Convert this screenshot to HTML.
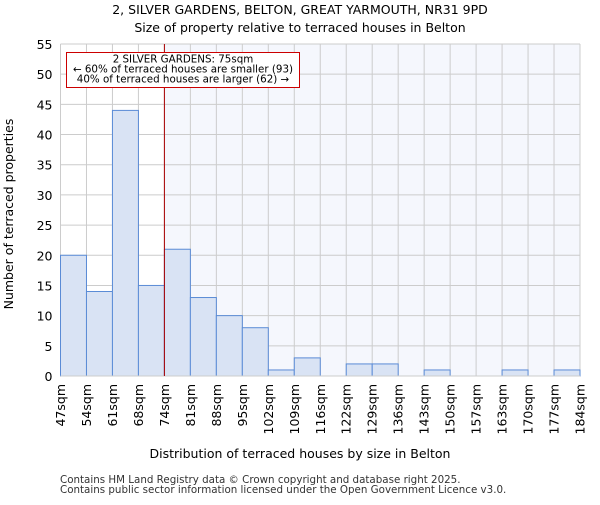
<!DOCTYPE html>
<html><head><meta charset="utf-8"><style>
body{margin:0;background:#fff}
svg{font-family:"DejaVu Sans","Liberation Sans",sans-serif}
</style></head><body>
<svg width="600" height="500" id="c">
<text x="300" y="14" text-anchor="middle" font-size="12.5">2, SILVER GARDENS, BELTON, GREAT YARMOUTH, NR31 9PD</text>
<text x="300" y="32" text-anchor="middle" font-size="12.5">Size of property relative to terraced houses in Belton</text>
<g id="plot"></g>
<text x="300" y="458" text-anchor="middle" font-size="12.5">Distribution of terraced houses by size in Belton</text>
<text transform="translate(13,214) rotate(-90)" text-anchor="middle" font-size="12.5">Number of terraced properties</text>
<text x="60" y="483" font-size="10.3" fill="#333">Contains HM Land Registry data © Crown copyright and database right 2025.</text>
<text x="60" y="493" font-size="10.3" fill="#333">Contains public sector information licensed under the Open Government Licence v3.0.</text>
</svg>
<script>
const categories=["47sqm","54sqm","61sqm","68sqm","74sqm","81sqm","88sqm","95sqm","102sqm","109sqm","116sqm","122sqm","129sqm","136sqm","143sqm","150sqm","157sqm","163sqm","170sqm","177sqm","184sqm"];
const counts=[20,14,44,15,21,13,10,8,1,3,0,2,2,0,1,0,0,1,0,1];
const yTicks=[0,5,10,15,20,25,30,35,40,45,50,55];
const markerBin=4;
const X0=60.5,X1=580,Y0=376,Y1=44,YMAX=55;
const bw=(X1-X0)/counts.length;
const xs=i=>X0+i*bw, ys=v=>Y0-(v/YMAX)*(Y0-Y1);
const ns="http://www.w3.org/2000/svg", g=document.getElementById('plot');
function mk(t,a){const e=document.createElementNS(ns,t);for(const k in a)e.setAttribute(k,a[k]);g.appendChild(e);return e;}
const mx=xs(markerBin);
let e=mk('rect',{x:mx,y:Y1,width:X1-mx,height:Y0-Y1,fill:"#f5f7fd"});


yTicks.forEach(t=>{let l=mk('line',{x1:X0,x2:X1,y1:ys(t),y2:ys(t),stroke:"#ccc"});


let tx=mk('text',{x:X0-8,y:ys(t)+5,"text-anchor":"end","font-size":"12.5"});tx.textContent=t;

});
for(let i=0;i<=counts.length;i++){let l=mk('line',{x1:xs(i),x2:xs(i),y1:Y1,y2:Y0,stroke:"#ccc"});

}
counts.forEach((v,i)=>{if(v<=0)return;let r=mk('rect',{x:xs(i),y:ys(v),width:bw,height:Y0-ys(v),fill:"#d9e3f4",stroke:"#5a8bd6","stroke-width":1});

});
categories.forEach((c,i)=>{let t=mk('text',{transform:`translate(${xs(i)+4.5},${Y0+8}) rotate(-90)`,"text-anchor":"end","font-size":"12.5"});t.textContent=c;

});
let ax=mk('line',{x1:X0,x2:X1,y1:Y0,y2:Y0,stroke:"#ccc"});


let ml=mk('line',{x1:mx,x2:mx,y1:Y1,y2:Y0,stroke:"#a00","stroke-width":1});


let box=mk('rect',{x:66.5,y:52.5,width:233,height:35,fill:"#fff",stroke:"#c00"});


["2 SILVER GARDENS: 75sqm","← 60% of terraced houses are smaller (93)","40% of terraced houses are larger (62) →"].forEach((s,i)=>{let t=mk('text',{x:183,y:62.5+i*10,"text-anchor":"middle","font-size":"10.3"});t.textContent=s;

});
</script>
</body></html>
